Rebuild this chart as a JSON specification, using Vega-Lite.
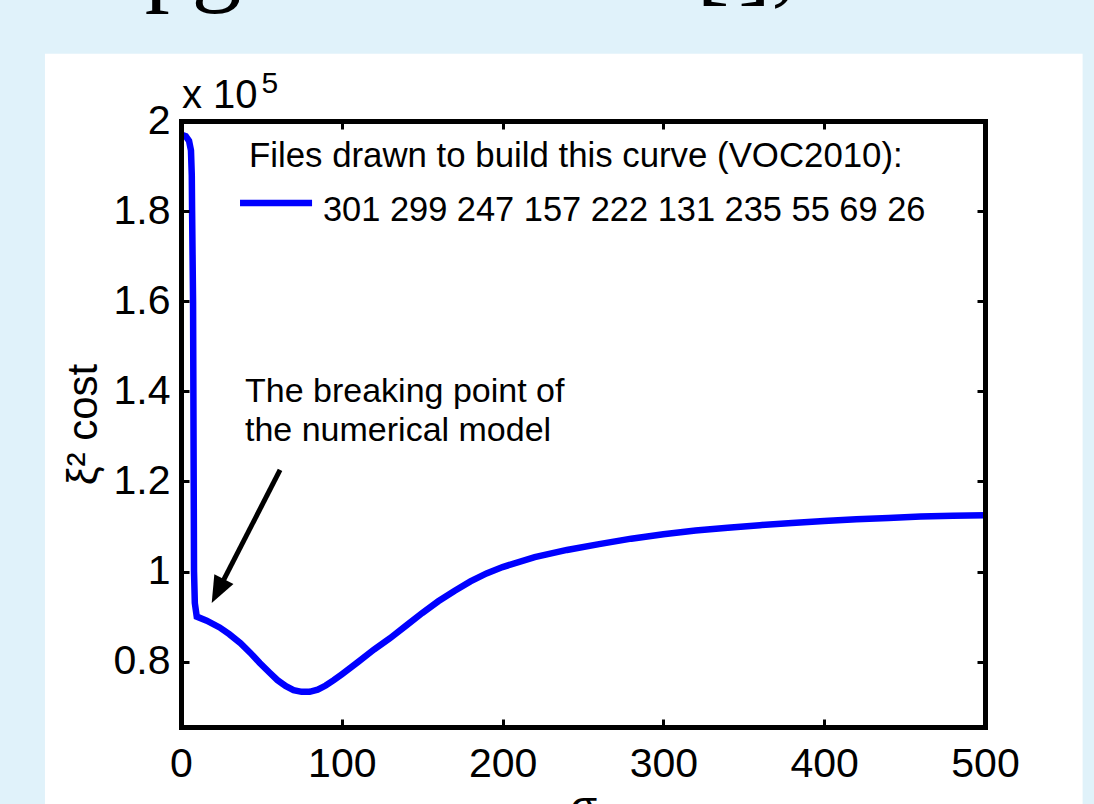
{
  "$schema": "https://vega.github.io/schema/vega-lite/v6.json",
  "width": 804,
  "height": 606,
  "autosize": "none",
  "padding": {"left": 181, "top": 121, "right": 109, "bottom": 77},
  "background": "#e0f2fa",
  "config": {
    "view": {"stroke": null},
    "font": "Liberation Sans",
    "axis": {"grid": false}
  },
  "datasets": {
    "curve": [
      {"sigma": 0, "cost": 1.970}, {"sigma": 3, "cost": 1.966}, {"sigma": 5, "cost": 1.956},
      {"sigma": 6.2, "cost": 1.935}, {"sigma": 6.7, "cost": 1.88}, {"sigma": 6.9, "cost": 1.80},
      {"sigma": 7.5, "cost": 1.60}, {"sigma": 8.1, "cost": 1.00}, {"sigma": 8.6, "cost": 0.93},
      {"sigma": 9.8, "cost": 0.900}, {"sigma": 16, "cost": 0.891}, {"sigma": 24, "cost": 0.876},
      {"sigma": 30, "cost": 0.861}, {"sigma": 37, "cost": 0.841}, {"sigma": 43, "cost": 0.820},
      {"sigma": 49, "cost": 0.797}, {"sigma": 55, "cost": 0.776}, {"sigma": 60, "cost": 0.759},
      {"sigma": 65, "cost": 0.746}, {"sigma": 70, "cost": 0.737}, {"sigma": 75, "cost": 0.733},
      {"sigma": 80, "cost": 0.733}, {"sigma": 85, "cost": 0.738}, {"sigma": 90, "cost": 0.747},
      {"sigma": 95, "cost": 0.759}, {"sigma": 100, "cost": 0.772}, {"sigma": 110, "cost": 0.799},
      {"sigma": 120, "cost": 0.827}, {"sigma": 130, "cost": 0.852}, {"sigma": 140, "cost": 0.880},
      {"sigma": 150, "cost": 0.908}, {"sigma": 160, "cost": 0.934}, {"sigma": 170, "cost": 0.957},
      {"sigma": 180, "cost": 0.978}, {"sigma": 190, "cost": 0.996}, {"sigma": 200, "cost": 1.010},
      {"sigma": 220, "cost": 1.032}, {"sigma": 240, "cost": 1.048}, {"sigma": 260, "cost": 1.061},
      {"sigma": 280, "cost": 1.073}, {"sigma": 300, "cost": 1.083}, {"sigma": 320, "cost": 1.091},
      {"sigma": 340, "cost": 1.097}, {"sigma": 360, "cost": 1.103}, {"sigma": 380, "cost": 1.108},
      {"sigma": 400, "cost": 1.112}, {"sigma": 420, "cost": 1.116}, {"sigma": 440, "cost": 1.119},
      {"sigma": 460, "cost": 1.122}, {"sigma": 480, "cost": 1.124}, {"sigma": 500, "cost": 1.125}
    ],
    "notes": [
      {"x": 39.8, "y": 1.376, "text": "The breaking point of"},
      {"x": 39.8, "y": 1.290, "text": "the numerical model"}
    ],
    "fragments": [
      {"x": -22.5, "y": 2.285, "text": "p"},
      {"x": 6.5, "y": 2.285, "text": "g"},
      {"x": 320.5, "y": 2.285, "text": "["},
      {"x": 346.4, "y": 2.285, "text": "],"}
    ]
  },
  "resolve": {"axis": {"x": "independent", "y": "independent"}},
  "layer": [
    {
      "data": {"values": [{}]},
      "mark": {"type": "rect", "color": "white"},
      "encoding": {
        "x": {"datum": -84.6, "type": "quantitative", "scale": {"domain": [0, 500], "nice": false, "zero": false}, "axis": null},
        "x2": {"datum": 560.7},
        "y": {"datum": 2.149, "type": "quantitative", "scale": {"domain": [0.655, 2], "nice": false, "zero": false}, "axis": null},
        "y2": {"datum": 0.4}
      }
    },
    {
      "data": {"name": "fragments"},
      "mark": {"type": "text", "font": "Liberation Serif", "fontSize": 100, "align": "left", "baseline": "alphabetic", "color": "black"},
      "encoding": {
        "x": {"field": "x", "type": "quantitative", "scale": {"domain": [0, 500], "nice": false, "zero": false}, "axis": null},
        "y": {"field": "y", "type": "quantitative", "scale": {"domain": [0.655, 2], "nice": false, "zero": false}, "axis": null},
        "text": {"field": "text"}
      }
    },
    {
      "data": {"name": "curve"},
      "mark": {"type": "line", "color": "#0000ff", "strokeWidth": 6.5},
      "encoding": {
        "x": {
          "field": "sigma", "type": "quantitative",
          "scale": {"domain": [0, 500], "nice": false, "zero": false},
          "axis": {
            "orient": "bottom", "values": [0, 100, 200, 300, 400, 500], "zindex": 1,
            "tickSize": -8, "tickWidth": 3, "tickColor": "black",
            "labelFontSize": 41, "labelColor": "black", "labelPadding": 25,
            "labelFlush": false, "labelOverlap": false,
            "domainColor": "black", "domainWidth": 5, "domainCap": "square",
            "title": "σ", "titleFontSize": 44, "titleFontWeight": "normal", "titleColor": "black", "titlePadding": 2
          }
        },
        "y": {
          "field": "cost", "type": "quantitative",
          "scale": {"domain": [0.655, 2], "nice": false, "zero": false},
          "axis": {
            "orient": "left", "values": [0.8, 1, 1.2, 1.4, 1.6, 1.8, 2], "format": ".1~f", "zindex": 1,
            "tickSize": -8, "tickWidth": 3, "tickColor": "black",
            "labelFontSize": 41, "labelColor": "black", "labelPadding": 19,
            "labelFlush": false, "labelOverlap": false,
            "domainColor": "black", "domainWidth": 5, "domainCap": "square",
            "title": "ξ² cost", "titleFontSize": 42, "titleFontWeight": "normal", "titleColor": "black", "titlePadding": 8
          }
        }
      }
    },
    {
      "data": {"values": [{}]},
      "mark": {"type": "rule", "color": "#0000ff", "strokeWidth": 6.5},
      "encoding": {
        "x": {
          "datum": 36.7, "type": "quantitative",
          "scale": {"domain": [0, 500], "nice": false, "zero": false},
          "axis": {
            "orient": "top", "values": [100, 200, 300, 400], "labels": false, "zindex": 1,
            "tickSize": -8, "tickWidth": 3, "tickColor": "black",
            "domainColor": "black", "domainWidth": 5, "domainCap": "square", "title": null
          }
        },
        "x2": {"datum": 81.5},
        "y": {
          "datum": 1.818, "type": "quantitative",
          "scale": {"domain": [0.655, 2], "nice": false, "zero": false},
          "axis": {
            "orient": "right", "values": [0.8, 1, 1.2, 1.4, 1.6, 1.8], "labels": false, "zindex": 1,
            "tickSize": -8, "tickWidth": 3, "tickColor": "black",
            "domainColor": "black", "domainWidth": 5, "domainCap": "square", "title": null
          }
        }
      }
    },
    {
      "data": {"values": [{}]},
      "mark": {"type": "text", "text": "Files drawn to build this curve (VOC2010):", "fontSize": 34.8, "align": "left", "baseline": "alphabetic", "color": "black"},
      "encoding": {
        "x": {"datum": 42.3, "type": "quantitative", "scale": {"domain": [0, 500], "nice": false, "zero": false}, "axis": null},
        "y": {"datum": 1.898, "type": "quantitative", "scale": {"domain": [0.655, 2], "nice": false, "zero": false}, "axis": null}
      }
    },
    {
      "data": {"values": [{}]},
      "mark": {"type": "text", "text": "301 299 247 157 222 131 235 55 69 26", "fontSize": 34.4, "align": "left", "baseline": "alphabetic", "color": "black"},
      "encoding": {
        "x": {"datum": 88.3, "type": "quantitative", "scale": {"domain": [0, 500], "nice": false, "zero": false}, "axis": null},
        "y": {"datum": 1.778, "type": "quantitative", "scale": {"domain": [0.655, 2], "nice": false, "zero": false}, "axis": null}
      }
    },
    {
      "data": {"values": [{}]},
      "mark": {"type": "text", "text": "x 10", "fontSize": 40, "align": "left", "baseline": "alphabetic", "color": "black"},
      "encoding": {
        "x": {"datum": 0.6, "type": "quantitative", "scale": {"domain": [0, 500], "nice": false, "zero": false}, "axis": null},
        "y": {"datum": 2.029, "type": "quantitative", "scale": {"domain": [0.655, 2], "nice": false, "zero": false}, "axis": null}
      }
    },
    {
      "data": {"values": [{}]},
      "mark": {"type": "text", "text": "5", "fontSize": 30, "align": "left", "baseline": "alphabetic", "color": "black"},
      "encoding": {
        "x": {"datum": 50, "type": "quantitative", "scale": {"domain": [0, 500], "nice": false, "zero": false}, "axis": null},
        "y": {"datum": 2.062, "type": "quantitative", "scale": {"domain": [0.655, 2], "nice": false, "zero": false}, "axis": null}
      }
    },
    {
      "data": {"name": "notes"},
      "mark": {"type": "text", "fontSize": 34, "align": "left", "baseline": "alphabetic", "color": "black"},
      "encoding": {
        "x": {"field": "x", "type": "quantitative", "scale": {"domain": [0, 500], "nice": false, "zero": false}, "axis": null},
        "y": {"field": "y", "type": "quantitative", "scale": {"domain": [0.655, 2], "nice": false, "zero": false}, "axis": null},
        "text": {"field": "text"}
      }
    },
    {
      "data": {"values": [{}]},
      "mark": {"type": "rule", "color": "black", "strokeWidth": 5},
      "encoding": {
        "x": {"datum": 61.6, "type": "quantitative", "scale": {"domain": [0, 500], "nice": false, "zero": false}, "axis": null},
        "x2": {"datum": 22.8},
        "y": {"datum": 1.2255, "type": "quantitative", "scale": {"domain": [0.655, 2], "nice": false, "zero": false}, "axis": null},
        "y2": {"datum": 0.9554}
      }
    },
    {
      "data": {"values": [{}]},
      "mark": {"type": "point", "shape": "M0,0L0.8,2L-0.8,2Z", "size": 720, "angle": 207, "filled": true, "color": "black", "opacity": 1},
      "encoding": {
        "x": {"datum": 19.1, "type": "quantitative", "scale": {"domain": [0, 500], "nice": false, "zero": false}, "axis": null},
        "y": {"datum": 0.930, "type": "quantitative", "scale": {"domain": [0.655, 2], "nice": false, "zero": false}, "axis": null}
      }
    }
  ]
}
